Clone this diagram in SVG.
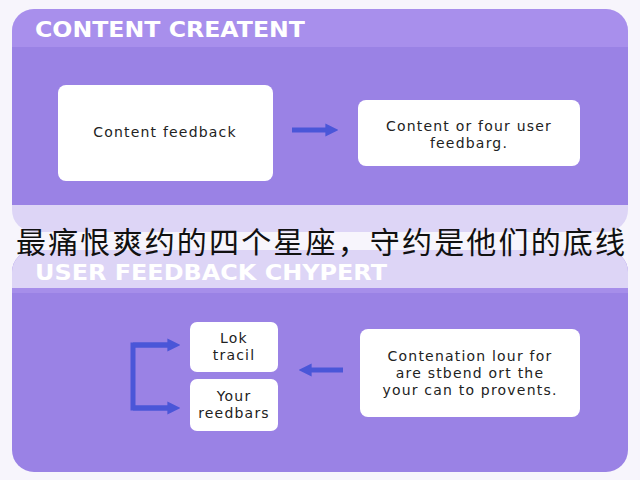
<svg xmlns="http://www.w3.org/2000/svg" width="640" height="480" viewBox="0 0 640 480">
<defs>
<style>
.hdr{font-family:"DejaVu Sans","Liberation Sans",sans-serif;font-weight:bold;font-size:22px;fill:#ffffff}
.lbl{font-family:"DejaVu Sans","Liberation Sans",sans-serif;font-size:14px;letter-spacing:1.2px;fill:#222222;text-anchor:middle}
.box{fill:#ffffff;stroke:none}
.conn{fill:none;stroke:#4a56d8;stroke-width:5}
.cn{font-family:"Noto Sans CJK SC",sans-serif;font-size:30px;fill:#111111}
</style>
<marker id="ah" viewBox="0 0 10 10" refX="2" refY="5" markerWidth="2.6" markerHeight="3" orient="auto" markerUnits="strokeWidth">
<path d="M0,0 L10,5 L0,10 Z" fill="#4a56d8"/>
</marker>
<clipPath id="c1"><rect x="12" y="9" width="616" height="223" rx="22"/></clipPath>
<clipPath id="c2"><rect x="12" y="250" width="616" height="222" rx="22"/></clipPath>
</defs>
<rect width="640" height="480" fill="#f7f5fc"/>
<g id="panel-top" clip-path="url(#c1)">
<rect x="12" y="9" width="616" height="223" fill="#ddd5f6"/>
<rect x="12" y="9" width="616" height="38" fill="#a88fec"/>
<rect x="12" y="47" width="616" height="158" fill="#9a82e5"/>
<text class="hdr" x="35" y="37" textLength="270" lengthAdjust="spacingAndGlyphs">CONTENT CREATENT</text>
</g>
<g id="panel-bottom" clip-path="url(#c2)">
<rect x="12" y="250" width="616" height="222" fill="#9a82e5"/>
<rect x="12" y="250" width="616" height="38" fill="#ddd5f6"/>
<rect x="12" y="288" width="616" height="5" fill="#a68eea"/>
<text class="hdr" x="35" y="280" textLength="352" lengthAdjust="spacingAndGlyphs">USER FEEDBACK CHYPERT</text>
</g>
<g id="n1">
<rect class="box" x="58" y="85" width="215" height="96" rx="8"/>
<text class="lbl" x="165" y="137">Content feedback</text>
</g>
<g id="n2">
<rect class="box" x="358" y="100" width="222" height="66" rx="8"/>
<text class="lbl" x="469" y="131">Content or four user</text>
<text class="lbl" x="469" y="148">feedbarg.</text>
</g>
<g id="n3">
<rect class="box" x="190" y="322" width="88" height="50" rx="7"/>
<text class="lbl" x="234" y="343">Lok</text>
<text class="lbl" x="234" y="360">tracil</text>
</g>
<g id="n4">
<rect class="box" x="190" y="379" width="88" height="52" rx="7"/>
<text class="lbl" x="234" y="401">Your</text>
<text class="lbl" x="234" y="418">reedbars</text>
</g>
<g id="n5">
<rect class="box" x="360" y="329" width="220" height="88" rx="8"/>
<text class="lbl" x="470" y="361">Contenation lour for</text>
<text class="lbl" x="470" y="378">are stbend ort the</text>
<text class="lbl" x="470" y="395">your can to provents.</text>
</g>
<g id="connectors">
<line class="conn" x1="292" y1="130" x2="328" y2="130" marker-end="url(#ah)"/>
<line class="conn" x1="343" y1="370" x2="309" y2="370" marker-end="url(#ah)"/>
<path class="conn" d="M170,345 H133 V408 H170" />
<line class="conn" x1="133" y1="345" x2="170" y2="345" marker-end="url(#ah)"/>
<line class="conn" x1="133" y1="408" x2="170" y2="408" marker-end="url(#ah)"/>
</g>
<text class="cn" x="16" y="253" textLength="609">最痛恨爽约的四个星座，守约是他们的底线</text>
</svg>
